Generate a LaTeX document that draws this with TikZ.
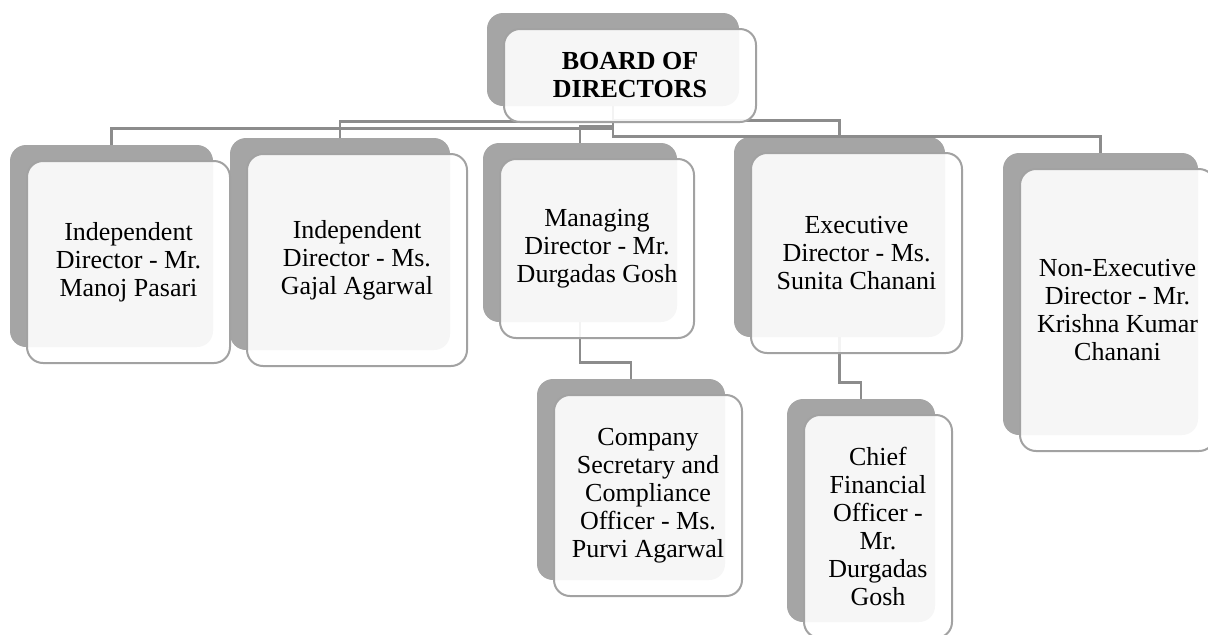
\documentclass[tikz,border=0pt]{standalone}
\usepackage{fontspec}
\setmainfont{Liberation Serif}
\usepackage{xcolor}
\usepackage{tikz}
\usetikzlibrary{positioning, calc}

\definecolor{shadegray}{HTML}{A5A5A5}
\definecolor{edgegray}{HTML}{A2A2A2}
\definecolor{linkgray}{HTML}{8C8C8C}

\begin{document}
\begin{tikzpicture}[x=0.5pt,y=-0.5pt]
\tikzstyle{back}=[rectangle,rounded corners=8pt,fill=shadegray,draw=none,inner sep=0pt]
\tikzstyle{front}=[rectangle,rounded corners=8pt,draw=edgegray,line width=1pt,fill=white,fill opacity=0.9,text opacity=1,inner sep=0pt,align=center,font=\fontsize{13}{14}\selectfont]
\tikzstyle{link}=[draw=linkgray,line width=1.2pt]

\useasboundingbox (0,0) rectangle (1208,634);

% grey backs
\node (boardB) [back, minimum width=126pt, minimum height=46.5pt] at (613,59.5) {};
\node (ind1B) [back, minimum width=101.5pt, minimum height=101pt] at (111.5,246) {};
\node (ind2B) [back, minimum width=110pt, minimum height=106pt] at (340,244) {};
\node (mdB) [back, minimum width=97pt, minimum height=89.5pt] at (580,232.5) {};
\node (edB) [back, minimum width=105.5pt, minimum height=100pt] at (839.5,237) {};
\node (nedB) [back, minimum width=97.5pt, minimum height=141pt] at (1100.5,294) {};
\node (csB) [back, minimum width=94pt, minimum height=100.5pt] at (631,479.5) {};
\node (cfoB) [back, minimum width=74pt, minimum height=111.5pt] at (861,510.5) {};

% connectors
\draw [link] (boardB.south) |- ([yshift=8pt]ind1B.north) -- (ind1B.north);
\draw [link] (boardB.south) |- ([yshift=8pt]ind2B.north) -- (ind2B.north);
\draw [link] (boardB.south) |- ([yshift=8pt]mdB.north) -- (mdB.north);
\draw [link] (boardB.south) |- ([yshift=8pt]edB.north) -- (edB.north);
\draw [link] (boardB.south) |- ([yshift=8pt]nedB.north) -- (nedB.north);
\draw [link] (mdB.south) |- ([yshift=8pt]csB.north) -- (csB.north);
\draw [link] (edB.south) |- ([yshift=8pt]cfoB.north) -- (cfoB.north);

% white fronts
\node (board) [front, minimum width=126pt, minimum height=46.5pt, font=\fontsize{13}{14}\selectfont\bfseries] at ([shift={(17,16)}]boardB) {BOARD OF\\DIRECTORS};
\node (ind1) [front, minimum width=101.5pt, minimum height=101pt] at ([shift={(17,16)}]ind1B) {Independent\\Director - Mr.\\Manoj Pasari};
\node (ind2) [front, minimum width=110pt, minimum height=106pt] at ([shift={(17,16)}]ind2B) {Independent\\Director - Ms.\\Gajal Agarwal};
\node (md) [front, minimum width=97pt, minimum height=89.5pt] at ([shift={(17,16)}]mdB) {Managing\\Director - Mr.\\Durgadas Gosh};
\node (ed) [front, minimum width=105.5pt, minimum height=100pt] at ([shift={(17,16)}]edB) {Executive\\Director - Ms.\\Sunita Chanani};
\node (ned) [front, minimum width=97.5pt, minimum height=141pt] at ([shift={(17,16)}]nedB) {Non-Executive\\Director - Mr.\\Krishna Kumar\\Chanani};
\node (cs) [front, minimum width=94pt, minimum height=100.5pt] at ([shift={(17,16)}]csB) {Company\\Secretary and\\Compliance\\Officer - Ms.\\Purvi Agarwal};
\node (cfo) [front, minimum width=74pt, minimum height=111.5pt] at ([shift={(17,16)}]cfoB) {Chief\\Financial\\Officer -\\Mr.\\Durgadas\\Gosh};

\end{tikzpicture}
\end{document}
